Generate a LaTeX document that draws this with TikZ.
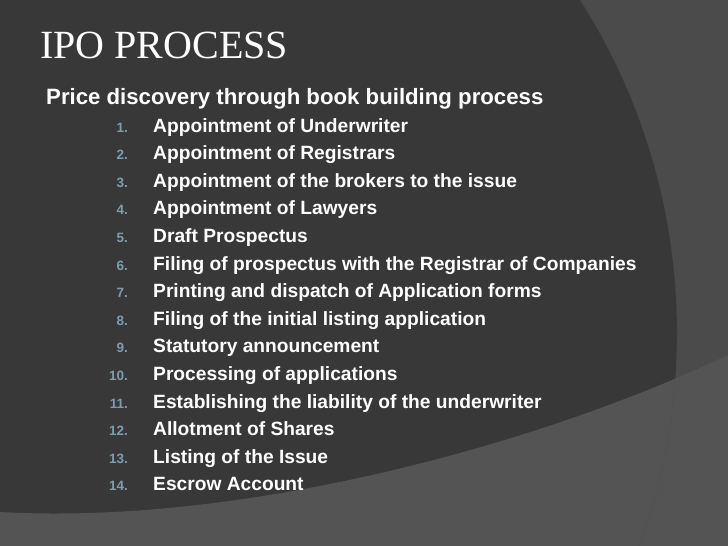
\documentclass[tikz,border=0pt]{standalone}
\usepackage{fontspec}
\setmainfont{Liberation Serif}
\setsansfont{Liberation Sans}
\definecolor{slatebg}{HTML}{4B4B4B}
\definecolor{slatedark}{HTML}{383838}
\definecolor{slatebot}{HTML}{545454}
\definecolor{numblue}{HTML}{7E9DAD}
\tikzset{
  itemtext/.style={anchor=base west, inner sep=0pt, text=white,
    font=\sffamily\bfseries\fontsize{19.2}{19}\selectfont},
  itemnum/.style={anchor=base east, inner sep=0pt, text=numblue,
    font=\sffamily\bfseries\fontsize{13.5}{14}\selectfont}
}
\begin{document}
\begin{tikzpicture}[x=1pt,y=-1pt]
    \useasboundingbox (0,0) rectangle (728,546);
    % background
    \fill[slatebg] (0,0) rectangle (728,546);
    \begin{scope}
      \clip (0,0) rectangle (728,546);
      \fill[slatedark] (57,333) circle (620);
      \fill[slatebot] (0,512) .. controls (250,526) and (550,440) .. (728,355)
        -- (728,546) -- (0,546) -- cycle;
      \draw[black!70, opacity=.4] (57,333) circle (620);
    \end{scope}
    % title and heading
    \node[anchor=base west, inner sep=0pt, text=white,
      font=\fontsize{40}{40}\selectfont] (title) at (40,58) {IPO PROCESS};
    \node[anchor=base west, inner sep=0pt, text=white,
      font=\sffamily\bfseries\fontsize{22.2}{22}\selectfont] (head) at (46,104)
      {Price discovery through book building process};
    % list
    \foreach \txt [count=\i] in {
        Appointment of Underwriter,
        Appointment of Registrars,
        Appointment of the brokers to the issue,
        Appointment of Lawyers,
        Draft Prospectus,
        Filing of prospectus with the Registrar of Companies,
        Printing and dispatch of Application forms,
        Filing of the initial listing application,
        Statutory announcement,
        Processing of applications,
        Establishing the liability of the underwriter,
        Allotment of Shares,
        Listing of the Issue,
        Escrow Account} {
      \node[itemnum] (num\i) at (128,{132+27.6*(\i-1)}) {\i.};
      \node[itemtext] (item\i) at (153,{132+27.6*(\i-1)}) {\txt};
    }
\end{tikzpicture}
\end{document}
